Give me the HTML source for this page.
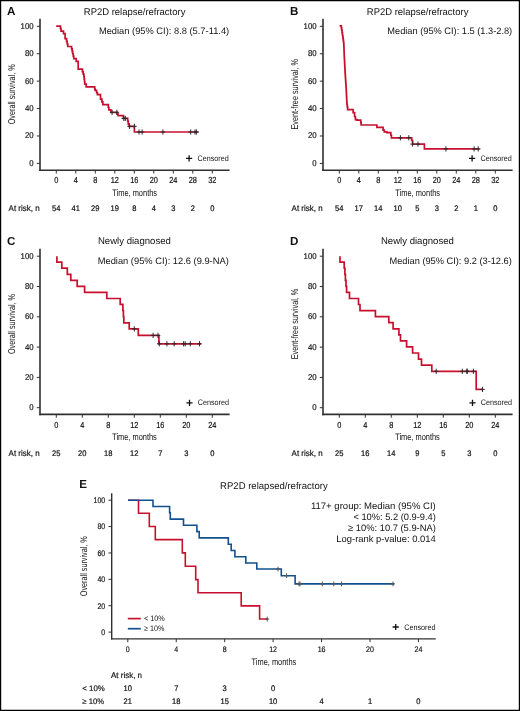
<!DOCTYPE html>
<html><head><meta charset="utf-8"><title>Figure</title>
<style>html,body{margin:0;padding:0;background:#fff;}svg{display:block;will-change:transform;}</style>
</head><body>
<svg width="520" height="711" viewBox="0 0 520 711">
<rect x="0" y="0" width="520" height="711" fill="#fff"/>
<g font-family='"Liberation Sans", sans-serif' text-rendering="geometricPrecision">
<text x="6.90" y="14.90" font-size="11.6" text-anchor="start" font-weight="bold" fill="#111">A</text>
<text x="83.80" y="14.50" font-size="9.7" text-anchor="start" textLength="101.60" lengthAdjust="spacingAndGlyphs" fill="#111111">RP2D relapse/refractory</text>
<text x="229.20" y="34.30" font-size="9.4" text-anchor="end" textLength="130.30" lengthAdjust="spacingAndGlyphs" fill="#111111">Median (95% CI): 8.8 (5.7-11.4)</text>
<line x1="40.00" y1="18.80" x2="40.00" y2="171.00" stroke="#303030" stroke-width="1.6"/>
<line x1="39.20" y1="170.20" x2="229.60" y2="170.20" stroke="#303030" stroke-width="1.6"/>
<line x1="36.80" y1="163.40" x2="40.00" y2="163.40" stroke="#303030" stroke-width="1"/>
<text x="33.60" y="165.80" font-size="8.4" text-anchor="end" textLength="4.34" lengthAdjust="spacingAndGlyphs" fill="#111111" stroke="#111" stroke-width="0.18">0</text>
<line x1="36.80" y1="135.98" x2="40.00" y2="135.98" stroke="#303030" stroke-width="1"/>
<text x="33.60" y="138.38" font-size="8.4" text-anchor="end" textLength="8.69" lengthAdjust="spacingAndGlyphs" fill="#111111" stroke="#111" stroke-width="0.18">20</text>
<line x1="36.80" y1="108.56" x2="40.00" y2="108.56" stroke="#303030" stroke-width="1"/>
<text x="33.60" y="110.96" font-size="8.4" text-anchor="end" textLength="8.69" lengthAdjust="spacingAndGlyphs" fill="#111111" stroke="#111" stroke-width="0.18">40</text>
<line x1="36.80" y1="81.14" x2="40.00" y2="81.14" stroke="#303030" stroke-width="1"/>
<text x="33.60" y="83.54" font-size="8.4" text-anchor="end" textLength="8.69" lengthAdjust="spacingAndGlyphs" fill="#111111" stroke="#111" stroke-width="0.18">60</text>
<line x1="36.80" y1="53.72" x2="40.00" y2="53.72" stroke="#303030" stroke-width="1"/>
<text x="33.60" y="56.12" font-size="8.4" text-anchor="end" textLength="8.69" lengthAdjust="spacingAndGlyphs" fill="#111111" stroke="#111" stroke-width="0.18">80</text>
<line x1="36.80" y1="26.30" x2="40.00" y2="26.30" stroke="#303030" stroke-width="1"/>
<text x="33.60" y="28.70" font-size="8.4" text-anchor="end" textLength="13.03" lengthAdjust="spacingAndGlyphs" fill="#111111" stroke="#111" stroke-width="0.18">100</text>
<line x1="56.30" y1="170.20" x2="56.30" y2="173.50" stroke="#303030" stroke-width="1"/>
<text x="56.30" y="182.80" font-size="8.7" text-anchor="middle" textLength="4.11" lengthAdjust="spacingAndGlyphs" fill="#111111" stroke="#111" stroke-width="0.18">0</text>
<line x1="75.80" y1="170.20" x2="75.80" y2="173.50" stroke="#303030" stroke-width="1"/>
<text x="75.80" y="182.80" font-size="8.7" text-anchor="middle" textLength="4.11" lengthAdjust="spacingAndGlyphs" fill="#111111" stroke="#111" stroke-width="0.18">4</text>
<line x1="95.30" y1="170.20" x2="95.30" y2="173.50" stroke="#303030" stroke-width="1"/>
<text x="95.30" y="182.80" font-size="8.7" text-anchor="middle" textLength="4.11" lengthAdjust="spacingAndGlyphs" fill="#111111" stroke="#111" stroke-width="0.18">8</text>
<line x1="114.80" y1="170.20" x2="114.80" y2="173.50" stroke="#303030" stroke-width="1"/>
<text x="114.80" y="182.80" font-size="8.7" text-anchor="middle" textLength="8.22" lengthAdjust="spacingAndGlyphs" fill="#111111" stroke="#111" stroke-width="0.18">12</text>
<line x1="134.30" y1="170.20" x2="134.30" y2="173.50" stroke="#303030" stroke-width="1"/>
<text x="134.30" y="182.80" font-size="8.7" text-anchor="middle" textLength="8.22" lengthAdjust="spacingAndGlyphs" fill="#111111" stroke="#111" stroke-width="0.18">16</text>
<line x1="153.80" y1="170.20" x2="153.80" y2="173.50" stroke="#303030" stroke-width="1"/>
<text x="153.80" y="182.80" font-size="8.7" text-anchor="middle" textLength="8.22" lengthAdjust="spacingAndGlyphs" fill="#111111" stroke="#111" stroke-width="0.18">20</text>
<line x1="173.30" y1="170.20" x2="173.30" y2="173.50" stroke="#303030" stroke-width="1"/>
<text x="173.30" y="182.80" font-size="8.7" text-anchor="middle" textLength="8.22" lengthAdjust="spacingAndGlyphs" fill="#111111" stroke="#111" stroke-width="0.18">24</text>
<line x1="192.80" y1="170.20" x2="192.80" y2="173.50" stroke="#303030" stroke-width="1"/>
<text x="192.80" y="182.80" font-size="8.7" text-anchor="middle" textLength="8.22" lengthAdjust="spacingAndGlyphs" fill="#111111" stroke="#111" stroke-width="0.18">28</text>
<line x1="212.30" y1="170.20" x2="212.30" y2="173.50" stroke="#303030" stroke-width="1"/>
<text x="212.30" y="182.80" font-size="8.7" text-anchor="middle" textLength="8.22" lengthAdjust="spacingAndGlyphs" fill="#111111" stroke="#111" stroke-width="0.18">32</text>
<text x="0.00" y="0.00" font-size="9.8" text-anchor="middle" textLength="60.10" lengthAdjust="spacingAndGlyphs" fill="#111111" transform="translate(15.3 94.3) rotate(-90)">Overall survival, %</text>
<text x="134.70" y="195.60" font-size="9.5" text-anchor="middle" textLength="44.70" lengthAdjust="spacingAndGlyphs" fill="#111111">Time, months</text>
<text x="8.60" y="211.00" font-size="8.4" text-anchor="start" textLength="31.00" lengthAdjust="spacingAndGlyphs" fill="#111111" stroke="#111" stroke-width="0.18">At risk, n</text>
<text x="56.30" y="211.00" font-size="8.1" text-anchor="middle" textLength="8.38" lengthAdjust="spacingAndGlyphs" fill="#111111" stroke="#111" stroke-width="0.22">54</text>
<text x="75.80" y="211.00" font-size="8.1" text-anchor="middle" textLength="8.38" lengthAdjust="spacingAndGlyphs" fill="#111111" stroke="#111" stroke-width="0.22">41</text>
<text x="95.30" y="211.00" font-size="8.1" text-anchor="middle" textLength="8.38" lengthAdjust="spacingAndGlyphs" fill="#111111" stroke="#111" stroke-width="0.22">29</text>
<text x="114.80" y="211.00" font-size="8.1" text-anchor="middle" textLength="8.38" lengthAdjust="spacingAndGlyphs" fill="#111111" stroke="#111" stroke-width="0.22">19</text>
<text x="134.30" y="211.00" font-size="8.1" text-anchor="middle" textLength="4.19" lengthAdjust="spacingAndGlyphs" fill="#111111" stroke="#111" stroke-width="0.22">8</text>
<text x="153.80" y="211.00" font-size="8.1" text-anchor="middle" textLength="4.19" lengthAdjust="spacingAndGlyphs" fill="#111111" stroke="#111" stroke-width="0.22">4</text>
<text x="173.30" y="211.00" font-size="8.1" text-anchor="middle" textLength="4.19" lengthAdjust="spacingAndGlyphs" fill="#111111" stroke="#111" stroke-width="0.22">3</text>
<text x="192.80" y="211.00" font-size="8.1" text-anchor="middle" textLength="4.19" lengthAdjust="spacingAndGlyphs" fill="#111111" stroke="#111" stroke-width="0.22">2</text>
<text x="212.30" y="211.00" font-size="8.1" text-anchor="middle" textLength="4.19" lengthAdjust="spacingAndGlyphs" fill="#111111" stroke="#111" stroke-width="0.22">0</text>
<path d="M186.00 158.40H192.20M189.10 155.30V161.50" stroke="#111" stroke-width="1.3" fill="none"/>
<text x="197.50" y="160.90" font-size="8.0" text-anchor="start" textLength="31.20" lengthAdjust="spacingAndGlyphs" fill="#111111">Censored</text>
<path d="M56.20 26.20H60.50V28.70H61.05V31.20H61.60H63.50V33.70H63.90H65.10V38.70H66.60V41.30H67.17V43.90H67.73V46.50H68.30H71.60V48.92H72.14V51.34H72.68V53.76H73.22V56.18H73.76V58.60H74.30H76.20V61.30H78.20V66.50V69.20H79.30H82.40V71.70H83.15V74.20H83.90V76.70H84.20V79.20H84.50V81.70H84.80V84.20H85.10H86.20V86.90H86.60H94.70V88.80H95.10V90.40H96.60V92.70H97.40V94.60H98.50H100.50V96.20V99.20H101.90V101.90H102.85V104.60H103.80H108.30V107.25H108.85V109.90H109.40H110.90V112.30H111.30H117.10V114.20H118.10V115.70H120.00H123.40V118.40H123.80H127.70V121.00H128.20V123.80H129.10V126.30H129.60H134.40V132.00H198.50" stroke="#c8102e" stroke-width="1.7" fill="none" stroke-linejoin="miter"/>
<path d="M109.80 112.30H114.40M112.10 109.70V114.90" stroke="#2a2a2a" stroke-width="1.0" fill="none"/>
<path d="M114.60 112.30H119.20M116.90 109.70V114.90" stroke="#2a2a2a" stroke-width="1.0" fill="none"/>
<path d="M121.50 118.40H126.10M123.80 115.80V121.00" stroke="#2a2a2a" stroke-width="1.0" fill="none"/>
<path d="M123.00 118.40H127.60M125.30 115.80V121.00" stroke="#2a2a2a" stroke-width="1.0" fill="none"/>
<path d="M127.30 126.30H131.90M129.60 123.70V128.90" stroke="#2a2a2a" stroke-width="1.0" fill="none"/>
<path d="M132.10 126.30H136.70M134.40 123.70V128.90" stroke="#2a2a2a" stroke-width="1.0" fill="none"/>
<path d="M136.70 132.00H141.30M139.00 129.40V134.60" stroke="#2a2a2a" stroke-width="1.0" fill="none"/>
<path d="M139.80 132.00H144.40M142.10 129.40V134.60" stroke="#2a2a2a" stroke-width="1.0" fill="none"/>
<path d="M160.60 132.00H165.20M162.90 129.40V134.60" stroke="#2a2a2a" stroke-width="1.0" fill="none"/>
<path d="M188.40 132.00H193.00M190.70 129.40V134.60" stroke="#2a2a2a" stroke-width="1.0" fill="none"/>
<path d="M192.70 132.00H197.30M195.00 129.40V134.60" stroke="#2a2a2a" stroke-width="1.0" fill="none"/>
<path d="M194.10 132.00H198.70M196.40 129.40V134.60" stroke="#2a2a2a" stroke-width="1.0" fill="none"/>
<text x="289.90" y="14.90" font-size="11.6" text-anchor="start" font-weight="bold" fill="#111">B</text>
<text x="366.80" y="14.50" font-size="9.7" text-anchor="start" textLength="101.60" lengthAdjust="spacingAndGlyphs" fill="#111111">RP2D relapse/refractory</text>
<text x="512.20" y="34.30" font-size="9.4" text-anchor="end" textLength="124.90" lengthAdjust="spacingAndGlyphs" fill="#111111">Median (95% CI): 1.5 (1.3-2.8)</text>
<line x1="323.00" y1="18.80" x2="323.00" y2="171.00" stroke="#303030" stroke-width="1.6"/>
<line x1="322.20" y1="170.20" x2="512.60" y2="170.20" stroke="#303030" stroke-width="1.6"/>
<line x1="319.80" y1="163.40" x2="323.00" y2="163.40" stroke="#303030" stroke-width="1"/>
<text x="316.60" y="165.80" font-size="8.4" text-anchor="end" textLength="4.34" lengthAdjust="spacingAndGlyphs" fill="#111111" stroke="#111" stroke-width="0.18">0</text>
<line x1="319.80" y1="135.98" x2="323.00" y2="135.98" stroke="#303030" stroke-width="1"/>
<text x="316.60" y="138.38" font-size="8.4" text-anchor="end" textLength="8.69" lengthAdjust="spacingAndGlyphs" fill="#111111" stroke="#111" stroke-width="0.18">20</text>
<line x1="319.80" y1="108.56" x2="323.00" y2="108.56" stroke="#303030" stroke-width="1"/>
<text x="316.60" y="110.96" font-size="8.4" text-anchor="end" textLength="8.69" lengthAdjust="spacingAndGlyphs" fill="#111111" stroke="#111" stroke-width="0.18">40</text>
<line x1="319.80" y1="81.14" x2="323.00" y2="81.14" stroke="#303030" stroke-width="1"/>
<text x="316.60" y="83.54" font-size="8.4" text-anchor="end" textLength="8.69" lengthAdjust="spacingAndGlyphs" fill="#111111" stroke="#111" stroke-width="0.18">60</text>
<line x1="319.80" y1="53.72" x2="323.00" y2="53.72" stroke="#303030" stroke-width="1"/>
<text x="316.60" y="56.12" font-size="8.4" text-anchor="end" textLength="8.69" lengthAdjust="spacingAndGlyphs" fill="#111111" stroke="#111" stroke-width="0.18">80</text>
<line x1="319.80" y1="26.30" x2="323.00" y2="26.30" stroke="#303030" stroke-width="1"/>
<text x="316.60" y="28.70" font-size="8.4" text-anchor="end" textLength="13.03" lengthAdjust="spacingAndGlyphs" fill="#111111" stroke="#111" stroke-width="0.18">100</text>
<line x1="339.30" y1="170.20" x2="339.30" y2="173.50" stroke="#303030" stroke-width="1"/>
<text x="339.30" y="182.80" font-size="8.7" text-anchor="middle" textLength="4.11" lengthAdjust="spacingAndGlyphs" fill="#111111" stroke="#111" stroke-width="0.18">0</text>
<line x1="358.80" y1="170.20" x2="358.80" y2="173.50" stroke="#303030" stroke-width="1"/>
<text x="358.80" y="182.80" font-size="8.7" text-anchor="middle" textLength="4.11" lengthAdjust="spacingAndGlyphs" fill="#111111" stroke="#111" stroke-width="0.18">4</text>
<line x1="378.30" y1="170.20" x2="378.30" y2="173.50" stroke="#303030" stroke-width="1"/>
<text x="378.30" y="182.80" font-size="8.7" text-anchor="middle" textLength="4.11" lengthAdjust="spacingAndGlyphs" fill="#111111" stroke="#111" stroke-width="0.18">8</text>
<line x1="397.80" y1="170.20" x2="397.80" y2="173.50" stroke="#303030" stroke-width="1"/>
<text x="397.80" y="182.80" font-size="8.7" text-anchor="middle" textLength="8.22" lengthAdjust="spacingAndGlyphs" fill="#111111" stroke="#111" stroke-width="0.18">12</text>
<line x1="417.30" y1="170.20" x2="417.30" y2="173.50" stroke="#303030" stroke-width="1"/>
<text x="417.30" y="182.80" font-size="8.7" text-anchor="middle" textLength="8.22" lengthAdjust="spacingAndGlyphs" fill="#111111" stroke="#111" stroke-width="0.18">16</text>
<line x1="436.80" y1="170.20" x2="436.80" y2="173.50" stroke="#303030" stroke-width="1"/>
<text x="436.80" y="182.80" font-size="8.7" text-anchor="middle" textLength="8.22" lengthAdjust="spacingAndGlyphs" fill="#111111" stroke="#111" stroke-width="0.18">20</text>
<line x1="456.30" y1="170.20" x2="456.30" y2="173.50" stroke="#303030" stroke-width="1"/>
<text x="456.30" y="182.80" font-size="8.7" text-anchor="middle" textLength="8.22" lengthAdjust="spacingAndGlyphs" fill="#111111" stroke="#111" stroke-width="0.18">24</text>
<line x1="475.80" y1="170.20" x2="475.80" y2="173.50" stroke="#303030" stroke-width="1"/>
<text x="475.80" y="182.80" font-size="8.7" text-anchor="middle" textLength="8.22" lengthAdjust="spacingAndGlyphs" fill="#111111" stroke="#111" stroke-width="0.18">28</text>
<line x1="495.30" y1="170.20" x2="495.30" y2="173.50" stroke="#303030" stroke-width="1"/>
<text x="495.30" y="182.80" font-size="8.7" text-anchor="middle" textLength="8.22" lengthAdjust="spacingAndGlyphs" fill="#111111" stroke="#111" stroke-width="0.18">32</text>
<text x="0.00" y="0.00" font-size="9.8" text-anchor="middle" textLength="70.40" lengthAdjust="spacingAndGlyphs" fill="#111111" transform="translate(298.3 94.3) rotate(-90)">Event-free survival, %</text>
<text x="417.70" y="195.60" font-size="9.5" text-anchor="middle" textLength="44.70" lengthAdjust="spacingAndGlyphs" fill="#111111">Time, months</text>
<text x="291.60" y="211.00" font-size="8.4" text-anchor="start" textLength="31.00" lengthAdjust="spacingAndGlyphs" fill="#111111" stroke="#111" stroke-width="0.18">At risk, n</text>
<text x="339.30" y="211.00" font-size="8.1" text-anchor="middle" textLength="8.38" lengthAdjust="spacingAndGlyphs" fill="#111111" stroke="#111" stroke-width="0.22">54</text>
<text x="358.80" y="211.00" font-size="8.1" text-anchor="middle" textLength="8.38" lengthAdjust="spacingAndGlyphs" fill="#111111" stroke="#111" stroke-width="0.22">17</text>
<text x="378.30" y="211.00" font-size="8.1" text-anchor="middle" textLength="8.38" lengthAdjust="spacingAndGlyphs" fill="#111111" stroke="#111" stroke-width="0.22">14</text>
<text x="397.80" y="211.00" font-size="8.1" text-anchor="middle" textLength="8.38" lengthAdjust="spacingAndGlyphs" fill="#111111" stroke="#111" stroke-width="0.22">10</text>
<text x="417.30" y="211.00" font-size="8.1" text-anchor="middle" textLength="4.19" lengthAdjust="spacingAndGlyphs" fill="#111111" stroke="#111" stroke-width="0.22">5</text>
<text x="436.80" y="211.00" font-size="8.1" text-anchor="middle" textLength="4.19" lengthAdjust="spacingAndGlyphs" fill="#111111" stroke="#111" stroke-width="0.22">3</text>
<text x="456.30" y="211.00" font-size="8.1" text-anchor="middle" textLength="4.19" lengthAdjust="spacingAndGlyphs" fill="#111111" stroke="#111" stroke-width="0.22">2</text>
<text x="475.80" y="211.00" font-size="8.1" text-anchor="middle" textLength="4.19" lengthAdjust="spacingAndGlyphs" fill="#111111" stroke="#111" stroke-width="0.22">1</text>
<text x="495.30" y="211.00" font-size="8.1" text-anchor="middle" textLength="4.19" lengthAdjust="spacingAndGlyphs" fill="#111111" stroke="#111" stroke-width="0.22">0</text>
<path d="M469.00 158.40H475.20M472.10 155.30V161.50" stroke="#111" stroke-width="1.3" fill="none"/>
<text x="480.50" y="160.90" font-size="8.0" text-anchor="start" textLength="31.20" lengthAdjust="spacingAndGlyphs" fill="#111111">Censored</text>
<path d="M339.60 25.90H341.30V27.85H341.65V29.80H342.00V32.65H342.45V35.50H342.90V37.83H343.20V40.17H343.50V42.50H343.80V45.04H343.90V47.58H344.00V50.12H344.10V52.66H344.20V55.20H344.30V57.60H344.43V60.00H344.56V62.40H344.69V64.80H344.81V67.20H344.94V69.60H345.07V72.00H345.20V74.58H345.37V77.17H345.53V79.75H345.70V82.33H345.87V84.92H346.03V87.50H346.20V89.85H346.32V92.20H346.43V94.55H346.55V96.90H346.67V99.25H346.78V101.60H346.90V104.27H347.27V106.93H347.63V109.60H348.00H353.10V112.70H354.60V116.50H355.40V119.60H356.90V120.10H360.80V122.55H361.15V125.00H361.50H376.90V127.40H377.20H383.10V130.10H384.30V131.90H386.90V132.70H390.80V135.25H391.40V137.80H392.00H411.70V140.50H412.60V144.10H424.40V148.90H479.60" stroke="#c8102e" stroke-width="1.7" fill="none" stroke-linejoin="miter"/>
<path d="M398.10 137.80H402.70M400.40 135.20V140.40" stroke="#2a2a2a" stroke-width="1.0" fill="none"/>
<path d="M406.50 137.80H411.10M408.80 135.20V140.40" stroke="#2a2a2a" stroke-width="1.0" fill="none"/>
<path d="M410.30 144.10H414.90M412.60 141.50V146.70" stroke="#2a2a2a" stroke-width="1.0" fill="none"/>
<path d="M415.70 144.10H420.30M418.00 141.50V146.70" stroke="#2a2a2a" stroke-width="1.0" fill="none"/>
<path d="M443.60 148.90H448.20M445.90 146.30V151.50" stroke="#2a2a2a" stroke-width="1.0" fill="none"/>
<path d="M471.80 148.90H476.40M474.10 146.30V151.50" stroke="#2a2a2a" stroke-width="1.0" fill="none"/>
<path d="M475.90 148.90H480.50M478.20 146.30V151.50" stroke="#2a2a2a" stroke-width="1.0" fill="none"/>
<text x="6.90" y="244.80" font-size="11.6" text-anchor="start" font-weight="bold" fill="#111">C</text>
<text x="134.40" y="244.30" font-size="9.7" text-anchor="middle" textLength="72.90" lengthAdjust="spacingAndGlyphs" fill="#111111">Newly diagnosed</text>
<text x="228.80" y="263.90" font-size="9.4" text-anchor="end" textLength="131.10" lengthAdjust="spacingAndGlyphs" fill="#111111">Median (95% CI): 12.6 (9.9-NA)</text>
<line x1="40.00" y1="248.70" x2="40.00" y2="415.20" stroke="#303030" stroke-width="1.6"/>
<line x1="39.20" y1="414.40" x2="229.60" y2="414.40" stroke="#303030" stroke-width="1.6"/>
<line x1="36.80" y1="407.70" x2="40.00" y2="407.70" stroke="#303030" stroke-width="1"/>
<text x="33.60" y="410.10" font-size="8.4" text-anchor="end" textLength="4.34" lengthAdjust="spacingAndGlyphs" fill="#111111" stroke="#111" stroke-width="0.18">0</text>
<line x1="36.80" y1="377.40" x2="40.00" y2="377.40" stroke="#303030" stroke-width="1"/>
<text x="33.60" y="379.80" font-size="8.4" text-anchor="end" textLength="8.69" lengthAdjust="spacingAndGlyphs" fill="#111111" stroke="#111" stroke-width="0.18">20</text>
<line x1="36.80" y1="347.10" x2="40.00" y2="347.10" stroke="#303030" stroke-width="1"/>
<text x="33.60" y="349.50" font-size="8.4" text-anchor="end" textLength="8.69" lengthAdjust="spacingAndGlyphs" fill="#111111" stroke="#111" stroke-width="0.18">40</text>
<line x1="36.80" y1="316.80" x2="40.00" y2="316.80" stroke="#303030" stroke-width="1"/>
<text x="33.60" y="319.20" font-size="8.4" text-anchor="end" textLength="8.69" lengthAdjust="spacingAndGlyphs" fill="#111111" stroke="#111" stroke-width="0.18">60</text>
<line x1="36.80" y1="286.50" x2="40.00" y2="286.50" stroke="#303030" stroke-width="1"/>
<text x="33.60" y="288.90" font-size="8.4" text-anchor="end" textLength="8.69" lengthAdjust="spacingAndGlyphs" fill="#111111" stroke="#111" stroke-width="0.18">80</text>
<line x1="36.80" y1="256.20" x2="40.00" y2="256.20" stroke="#303030" stroke-width="1"/>
<text x="33.60" y="258.60" font-size="8.4" text-anchor="end" textLength="13.03" lengthAdjust="spacingAndGlyphs" fill="#111111" stroke="#111" stroke-width="0.18">100</text>
<line x1="56.30" y1="414.40" x2="56.30" y2="417.70" stroke="#303030" stroke-width="1"/>
<text x="56.30" y="427.50" font-size="8.7" text-anchor="middle" textLength="4.11" lengthAdjust="spacingAndGlyphs" fill="#111111" stroke="#111" stroke-width="0.18">0</text>
<line x1="82.30" y1="414.40" x2="82.30" y2="417.70" stroke="#303030" stroke-width="1"/>
<text x="82.30" y="427.50" font-size="8.7" text-anchor="middle" textLength="4.11" lengthAdjust="spacingAndGlyphs" fill="#111111" stroke="#111" stroke-width="0.18">4</text>
<line x1="108.30" y1="414.40" x2="108.30" y2="417.70" stroke="#303030" stroke-width="1"/>
<text x="108.30" y="427.50" font-size="8.7" text-anchor="middle" textLength="4.11" lengthAdjust="spacingAndGlyphs" fill="#111111" stroke="#111" stroke-width="0.18">8</text>
<line x1="134.30" y1="414.40" x2="134.30" y2="417.70" stroke="#303030" stroke-width="1"/>
<text x="134.30" y="427.50" font-size="8.7" text-anchor="middle" textLength="8.22" lengthAdjust="spacingAndGlyphs" fill="#111111" stroke="#111" stroke-width="0.18">12</text>
<line x1="160.30" y1="414.40" x2="160.30" y2="417.70" stroke="#303030" stroke-width="1"/>
<text x="160.30" y="427.50" font-size="8.7" text-anchor="middle" textLength="8.22" lengthAdjust="spacingAndGlyphs" fill="#111111" stroke="#111" stroke-width="0.18">16</text>
<line x1="186.30" y1="414.40" x2="186.30" y2="417.70" stroke="#303030" stroke-width="1"/>
<text x="186.30" y="427.50" font-size="8.7" text-anchor="middle" textLength="8.22" lengthAdjust="spacingAndGlyphs" fill="#111111" stroke="#111" stroke-width="0.18">20</text>
<line x1="212.30" y1="414.40" x2="212.30" y2="417.70" stroke="#303030" stroke-width="1"/>
<text x="212.30" y="427.50" font-size="8.7" text-anchor="middle" textLength="8.22" lengthAdjust="spacingAndGlyphs" fill="#111111" stroke="#111" stroke-width="0.18">24</text>
<text x="0.00" y="0.00" font-size="9.8" text-anchor="middle" textLength="60.10" lengthAdjust="spacingAndGlyphs" fill="#111111" transform="translate(15.3 324.0) rotate(-90)">Overall survival, %</text>
<text x="134.50" y="440.00" font-size="9.5" text-anchor="middle" textLength="44.70" lengthAdjust="spacingAndGlyphs" fill="#111111">Time, months</text>
<text x="8.60" y="455.50" font-size="8.4" text-anchor="start" textLength="31.00" lengthAdjust="spacingAndGlyphs" fill="#111111" stroke="#111" stroke-width="0.18">At risk, n</text>
<text x="56.30" y="455.50" font-size="8.1" text-anchor="middle" textLength="8.38" lengthAdjust="spacingAndGlyphs" fill="#111111" stroke="#111" stroke-width="0.22">25</text>
<text x="82.30" y="455.50" font-size="8.1" text-anchor="middle" textLength="8.38" lengthAdjust="spacingAndGlyphs" fill="#111111" stroke="#111" stroke-width="0.22">20</text>
<text x="108.30" y="455.50" font-size="8.1" text-anchor="middle" textLength="8.38" lengthAdjust="spacingAndGlyphs" fill="#111111" stroke="#111" stroke-width="0.22">18</text>
<text x="134.30" y="455.50" font-size="8.1" text-anchor="middle" textLength="8.38" lengthAdjust="spacingAndGlyphs" fill="#111111" stroke="#111" stroke-width="0.22">12</text>
<text x="160.30" y="455.50" font-size="8.1" text-anchor="middle" textLength="4.19" lengthAdjust="spacingAndGlyphs" fill="#111111" stroke="#111" stroke-width="0.22">7</text>
<text x="186.30" y="455.50" font-size="8.1" text-anchor="middle" textLength="4.19" lengthAdjust="spacingAndGlyphs" fill="#111111" stroke="#111" stroke-width="0.22">3</text>
<text x="212.30" y="455.50" font-size="8.1" text-anchor="middle" textLength="4.19" lengthAdjust="spacingAndGlyphs" fill="#111111" stroke="#111" stroke-width="0.22">0</text>
<path d="M186.40 402.80H192.60M189.50 399.70V405.90" stroke="#111" stroke-width="1.3" fill="none"/>
<text x="197.80" y="405.40" font-size="8.0" text-anchor="start" textLength="31.20" lengthAdjust="spacingAndGlyphs" fill="#111111">Censored</text>
<path d="M56.90 256.20V262.20H61.80V268.20H67.30V274.30H70.80V280.40H77.20V286.40H84.60V292.40H106.80V298.50H120.20V304.30H122.90V310.50H123.40V316.60H123.80V322.80H129.20V328.90H138.30V335.40H158.90V343.80H201.10" stroke="#c8102e" stroke-width="1.7" fill="none" stroke-linejoin="miter"/>
<path d="M132.00 328.90H136.60M134.30 326.30V331.50" stroke="#2a2a2a" stroke-width="1.0" fill="none"/>
<path d="M150.80 335.40H155.40M153.10 332.80V338.00" stroke="#2a2a2a" stroke-width="1.0" fill="none"/>
<path d="M155.70 335.40H160.30M158.00 332.80V338.00" stroke="#2a2a2a" stroke-width="1.0" fill="none"/>
<path d="M157.00 343.80H161.60M159.30 341.20V346.40" stroke="#2a2a2a" stroke-width="1.0" fill="none"/>
<path d="M164.60 343.80H169.20M166.90 341.20V346.40" stroke="#2a2a2a" stroke-width="1.0" fill="none"/>
<path d="M171.90 343.80H176.50M174.20 341.20V346.40" stroke="#2a2a2a" stroke-width="1.0" fill="none"/>
<path d="M181.30 343.80H185.90M183.60 341.20V346.40" stroke="#2a2a2a" stroke-width="1.0" fill="none"/>
<path d="M182.90 343.80H187.50M185.20 341.20V346.40" stroke="#2a2a2a" stroke-width="1.0" fill="none"/>
<path d="M188.00 343.80H192.60M190.30 341.20V346.40" stroke="#2a2a2a" stroke-width="1.0" fill="none"/>
<path d="M197.20 343.80H201.80M199.50 341.20V346.40" stroke="#2a2a2a" stroke-width="1.0" fill="none"/>
<text x="289.90" y="244.80" font-size="11.6" text-anchor="start" font-weight="bold" fill="#111">D</text>
<text x="417.40" y="244.30" font-size="9.7" text-anchor="middle" textLength="72.90" lengthAdjust="spacingAndGlyphs" fill="#111111">Newly diagnosed</text>
<text x="511.80" y="263.90" font-size="9.4" text-anchor="end" textLength="122.30" lengthAdjust="spacingAndGlyphs" fill="#111111">Median (95% CI): 9.2 (3-12.6)</text>
<line x1="323.00" y1="248.70" x2="323.00" y2="415.20" stroke="#303030" stroke-width="1.6"/>
<line x1="322.20" y1="414.40" x2="512.60" y2="414.40" stroke="#303030" stroke-width="1.6"/>
<line x1="319.80" y1="407.70" x2="323.00" y2="407.70" stroke="#303030" stroke-width="1"/>
<text x="316.60" y="410.10" font-size="8.4" text-anchor="end" textLength="4.34" lengthAdjust="spacingAndGlyphs" fill="#111111" stroke="#111" stroke-width="0.18">0</text>
<line x1="319.80" y1="377.40" x2="323.00" y2="377.40" stroke="#303030" stroke-width="1"/>
<text x="316.60" y="379.80" font-size="8.4" text-anchor="end" textLength="8.69" lengthAdjust="spacingAndGlyphs" fill="#111111" stroke="#111" stroke-width="0.18">20</text>
<line x1="319.80" y1="347.10" x2="323.00" y2="347.10" stroke="#303030" stroke-width="1"/>
<text x="316.60" y="349.50" font-size="8.4" text-anchor="end" textLength="8.69" lengthAdjust="spacingAndGlyphs" fill="#111111" stroke="#111" stroke-width="0.18">40</text>
<line x1="319.80" y1="316.80" x2="323.00" y2="316.80" stroke="#303030" stroke-width="1"/>
<text x="316.60" y="319.20" font-size="8.4" text-anchor="end" textLength="8.69" lengthAdjust="spacingAndGlyphs" fill="#111111" stroke="#111" stroke-width="0.18">60</text>
<line x1="319.80" y1="286.50" x2="323.00" y2="286.50" stroke="#303030" stroke-width="1"/>
<text x="316.60" y="288.90" font-size="8.4" text-anchor="end" textLength="8.69" lengthAdjust="spacingAndGlyphs" fill="#111111" stroke="#111" stroke-width="0.18">80</text>
<line x1="319.80" y1="256.20" x2="323.00" y2="256.20" stroke="#303030" stroke-width="1"/>
<text x="316.60" y="258.60" font-size="8.4" text-anchor="end" textLength="13.03" lengthAdjust="spacingAndGlyphs" fill="#111111" stroke="#111" stroke-width="0.18">100</text>
<line x1="339.30" y1="414.40" x2="339.30" y2="417.70" stroke="#303030" stroke-width="1"/>
<text x="339.30" y="427.50" font-size="8.7" text-anchor="middle" textLength="4.11" lengthAdjust="spacingAndGlyphs" fill="#111111" stroke="#111" stroke-width="0.18">0</text>
<line x1="365.30" y1="414.40" x2="365.30" y2="417.70" stroke="#303030" stroke-width="1"/>
<text x="365.30" y="427.50" font-size="8.7" text-anchor="middle" textLength="4.11" lengthAdjust="spacingAndGlyphs" fill="#111111" stroke="#111" stroke-width="0.18">4</text>
<line x1="391.30" y1="414.40" x2="391.30" y2="417.70" stroke="#303030" stroke-width="1"/>
<text x="391.30" y="427.50" font-size="8.7" text-anchor="middle" textLength="4.11" lengthAdjust="spacingAndGlyphs" fill="#111111" stroke="#111" stroke-width="0.18">8</text>
<line x1="417.30" y1="414.40" x2="417.30" y2="417.70" stroke="#303030" stroke-width="1"/>
<text x="417.30" y="427.50" font-size="8.7" text-anchor="middle" textLength="8.22" lengthAdjust="spacingAndGlyphs" fill="#111111" stroke="#111" stroke-width="0.18">12</text>
<line x1="443.30" y1="414.40" x2="443.30" y2="417.70" stroke="#303030" stroke-width="1"/>
<text x="443.30" y="427.50" font-size="8.7" text-anchor="middle" textLength="8.22" lengthAdjust="spacingAndGlyphs" fill="#111111" stroke="#111" stroke-width="0.18">16</text>
<line x1="469.30" y1="414.40" x2="469.30" y2="417.70" stroke="#303030" stroke-width="1"/>
<text x="469.30" y="427.50" font-size="8.7" text-anchor="middle" textLength="8.22" lengthAdjust="spacingAndGlyphs" fill="#111111" stroke="#111" stroke-width="0.18">20</text>
<line x1="495.30" y1="414.40" x2="495.30" y2="417.70" stroke="#303030" stroke-width="1"/>
<text x="495.30" y="427.50" font-size="8.7" text-anchor="middle" textLength="8.22" lengthAdjust="spacingAndGlyphs" fill="#111111" stroke="#111" stroke-width="0.18">24</text>
<text x="0.00" y="0.00" font-size="9.8" text-anchor="middle" textLength="70.60" lengthAdjust="spacingAndGlyphs" fill="#111111" transform="translate(298.3 324.0) rotate(-90)">Event-free survival, %</text>
<text x="417.50" y="440.00" font-size="9.5" text-anchor="middle" textLength="44.70" lengthAdjust="spacingAndGlyphs" fill="#111111">Time, months</text>
<text x="291.60" y="455.50" font-size="8.4" text-anchor="start" textLength="31.00" lengthAdjust="spacingAndGlyphs" fill="#111111" stroke="#111" stroke-width="0.18">At risk, n</text>
<text x="339.30" y="455.50" font-size="8.1" text-anchor="middle" textLength="8.38" lengthAdjust="spacingAndGlyphs" fill="#111111" stroke="#111" stroke-width="0.22">25</text>
<text x="365.30" y="455.50" font-size="8.1" text-anchor="middle" textLength="8.38" lengthAdjust="spacingAndGlyphs" fill="#111111" stroke="#111" stroke-width="0.22">16</text>
<text x="391.30" y="455.50" font-size="8.1" text-anchor="middle" textLength="8.38" lengthAdjust="spacingAndGlyphs" fill="#111111" stroke="#111" stroke-width="0.22">14</text>
<text x="417.30" y="455.50" font-size="8.1" text-anchor="middle" textLength="4.19" lengthAdjust="spacingAndGlyphs" fill="#111111" stroke="#111" stroke-width="0.22">9</text>
<text x="443.30" y="455.50" font-size="8.1" text-anchor="middle" textLength="4.19" lengthAdjust="spacingAndGlyphs" fill="#111111" stroke="#111" stroke-width="0.22">5</text>
<text x="469.30" y="455.50" font-size="8.1" text-anchor="middle" textLength="4.19" lengthAdjust="spacingAndGlyphs" fill="#111111" stroke="#111" stroke-width="0.22">3</text>
<text x="495.30" y="455.50" font-size="8.1" text-anchor="middle" textLength="4.19" lengthAdjust="spacingAndGlyphs" fill="#111111" stroke="#111" stroke-width="0.22">0</text>
<path d="M469.40 402.80H475.60M472.50 399.70V405.90" stroke="#111" stroke-width="1.3" fill="none"/>
<text x="480.80" y="405.40" font-size="8.0" text-anchor="start" textLength="31.20" lengthAdjust="spacingAndGlyphs" fill="#111111">Censored</text>
<path d="M340.00 256.20V262.20H344.20V268.20H344.90V274.30H345.40V280.40H346.00V286.40H346.60V292.40H349.50V298.50H358.50V304.50H360.00V310.60H375.40V316.60H388.80V322.70H393.10V328.80H398.90V334.80H400.50V340.90H406.60V346.90H412.60V353.00H418.50V359.10H421.50V365.10H431.80V371.30H476.20V389.40H482.70" stroke="#c8102e" stroke-width="1.7" fill="none" stroke-linejoin="miter"/>
<path d="M433.90 371.30H438.50M436.20 368.70V373.90" stroke="#2a2a2a" stroke-width="1.0" fill="none"/>
<path d="M460.00 371.30H464.60M462.30 368.70V373.90" stroke="#2a2a2a" stroke-width="1.0" fill="none"/>
<path d="M464.50 371.30H469.10M466.80 368.70V373.90" stroke="#2a2a2a" stroke-width="1.0" fill="none"/>
<path d="M465.00 371.30H469.60M467.30 368.70V373.90" stroke="#2a2a2a" stroke-width="1.0" fill="none"/>
<path d="M471.10 371.30H475.70M473.40 368.70V373.90" stroke="#2a2a2a" stroke-width="1.0" fill="none"/>
<path d="M480.20 389.40H484.80M482.50 386.80V392.00" stroke="#2a2a2a" stroke-width="1.0" fill="none"/>
<text x="79.20" y="488.20" font-size="11.6" text-anchor="start" font-weight="bold" fill="#111">E</text>
<text x="220.10" y="488.80" font-size="9.7" text-anchor="start" textLength="107.60" lengthAdjust="spacingAndGlyphs" fill="#111111">RP2D relapsed/refractory</text>
<text x="435.80" y="508.90" font-size="9.4" text-anchor="end" textLength="124.90" lengthAdjust="spacingAndGlyphs" fill="#111111">117+ group: Median (95% CI)</text>
<text x="435.80" y="520.20" font-size="9.4" text-anchor="end" textLength="82.40" lengthAdjust="spacingAndGlyphs" fill="#111111">&lt; 10%: 5.2 (0.9-9.4)</text>
<text x="435.80" y="531.30" font-size="9.4" text-anchor="end" textLength="87.70" lengthAdjust="spacingAndGlyphs" fill="#111111">≥ 10%: 10.7 (5.9-NA)</text>
<text x="435.80" y="542.40" font-size="9.4" text-anchor="end" textLength="99.50" lengthAdjust="spacingAndGlyphs" fill="#111111">Log-rank p-value: 0.014</text>
<line x1="111.70" y1="493.20" x2="111.70" y2="639.60" stroke="#303030" stroke-width="1.4"/>
<line x1="111.00" y1="638.90" x2="435.70" y2="638.90" stroke="#303030" stroke-width="1.4"/>
<line x1="108.50" y1="632.10" x2="111.70" y2="632.10" stroke="#303030" stroke-width="1"/>
<text x="105.20" y="634.90" font-size="8.2" text-anchor="end" textLength="3.88" lengthAdjust="spacingAndGlyphs" fill="#111111" stroke="#111" stroke-width="0.18">0</text>
<line x1="108.50" y1="605.72" x2="111.70" y2="605.72" stroke="#303030" stroke-width="1"/>
<text x="105.20" y="608.52" font-size="8.2" text-anchor="end" textLength="7.75" lengthAdjust="spacingAndGlyphs" fill="#111111" stroke="#111" stroke-width="0.18">20</text>
<line x1="108.50" y1="579.34" x2="111.70" y2="579.34" stroke="#303030" stroke-width="1"/>
<text x="105.20" y="582.14" font-size="8.2" text-anchor="end" textLength="7.75" lengthAdjust="spacingAndGlyphs" fill="#111111" stroke="#111" stroke-width="0.18">40</text>
<line x1="108.50" y1="552.96" x2="111.70" y2="552.96" stroke="#303030" stroke-width="1"/>
<text x="105.20" y="555.76" font-size="8.2" text-anchor="end" textLength="7.75" lengthAdjust="spacingAndGlyphs" fill="#111111" stroke="#111" stroke-width="0.18">60</text>
<line x1="108.50" y1="526.58" x2="111.70" y2="526.58" stroke="#303030" stroke-width="1"/>
<text x="105.20" y="529.38" font-size="8.2" text-anchor="end" textLength="7.75" lengthAdjust="spacingAndGlyphs" fill="#111111" stroke="#111" stroke-width="0.18">80</text>
<line x1="108.50" y1="500.20" x2="111.70" y2="500.20" stroke="#303030" stroke-width="1"/>
<text x="105.20" y="503.00" font-size="8.2" text-anchor="end" textLength="11.63" lengthAdjust="spacingAndGlyphs" fill="#111111" stroke="#111" stroke-width="0.18">100</text>
<line x1="127.80" y1="638.90" x2="127.80" y2="642.20" stroke="#303030" stroke-width="1"/>
<text x="127.80" y="651.60" font-size="8.0" text-anchor="middle" textLength="3.91" lengthAdjust="spacingAndGlyphs" fill="#111111" stroke="#111" stroke-width="0.18">0</text>
<line x1="176.24" y1="638.90" x2="176.24" y2="642.20" stroke="#303030" stroke-width="1"/>
<text x="176.24" y="651.60" font-size="8.0" text-anchor="middle" textLength="3.91" lengthAdjust="spacingAndGlyphs" fill="#111111" stroke="#111" stroke-width="0.18">4</text>
<line x1="224.68" y1="638.90" x2="224.68" y2="642.20" stroke="#303030" stroke-width="1"/>
<text x="224.68" y="651.60" font-size="8.0" text-anchor="middle" textLength="3.91" lengthAdjust="spacingAndGlyphs" fill="#111111" stroke="#111" stroke-width="0.18">8</text>
<line x1="273.12" y1="638.90" x2="273.12" y2="642.20" stroke="#303030" stroke-width="1"/>
<text x="273.12" y="651.60" font-size="8.0" text-anchor="middle" textLength="7.83" lengthAdjust="spacingAndGlyphs" fill="#111111" stroke="#111" stroke-width="0.18">12</text>
<line x1="321.56" y1="638.90" x2="321.56" y2="642.20" stroke="#303030" stroke-width="1"/>
<text x="321.56" y="651.60" font-size="8.0" text-anchor="middle" textLength="7.83" lengthAdjust="spacingAndGlyphs" fill="#111111" stroke="#111" stroke-width="0.18">16</text>
<line x1="370.00" y1="638.90" x2="370.00" y2="642.20" stroke="#303030" stroke-width="1"/>
<text x="370.00" y="651.60" font-size="8.0" text-anchor="middle" textLength="7.83" lengthAdjust="spacingAndGlyphs" fill="#111111" stroke="#111" stroke-width="0.18">20</text>
<line x1="418.44" y1="638.90" x2="418.44" y2="642.20" stroke="#303030" stroke-width="1"/>
<text x="418.44" y="651.60" font-size="8.0" text-anchor="middle" textLength="7.83" lengthAdjust="spacingAndGlyphs" fill="#111111" stroke="#111" stroke-width="0.18">24</text>
<text x="0.00" y="0.00" font-size="9.6" text-anchor="middle" textLength="60.00" lengthAdjust="spacingAndGlyphs" fill="#111111" transform="translate(87.3 566.2) rotate(-90)">Overall survival, %</text>
<text x="273.90" y="664.60" font-size="9.5" text-anchor="middle" textLength="44.70" lengthAdjust="spacingAndGlyphs" fill="#111111">Time, months</text>
<text x="111.00" y="677.90" font-size="8.2" text-anchor="start" textLength="31.00" lengthAdjust="spacingAndGlyphs" fill="#111111" stroke="#111" stroke-width="0.18">At risk, n</text>
<text x="82.30" y="691.30" font-size="8.0" text-anchor="start" textLength="22.50" lengthAdjust="spacingAndGlyphs" fill="#111111" stroke="#111" stroke-width="0.18">&lt; 10%</text>
<text x="82.30" y="703.80" font-size="8.0" text-anchor="start" textLength="21.70" lengthAdjust="spacingAndGlyphs" fill="#111111" stroke="#111" stroke-width="0.18">≥ 10%</text>
<text x="127.80" y="691.30" font-size="8.1" text-anchor="middle" textLength="8.38" lengthAdjust="spacingAndGlyphs" fill="#111111" stroke="#111" stroke-width="0.22">10</text>
<text x="176.24" y="691.30" font-size="8.1" text-anchor="middle" textLength="4.19" lengthAdjust="spacingAndGlyphs" fill="#111111" stroke="#111" stroke-width="0.22">7</text>
<text x="224.68" y="691.30" font-size="8.1" text-anchor="middle" textLength="4.19" lengthAdjust="spacingAndGlyphs" fill="#111111" stroke="#111" stroke-width="0.22">3</text>
<text x="273.12" y="691.30" font-size="8.1" text-anchor="middle" textLength="4.19" lengthAdjust="spacingAndGlyphs" fill="#111111" stroke="#111" stroke-width="0.22">0</text>
<text x="127.80" y="703.80" font-size="8.1" text-anchor="middle" textLength="8.38" lengthAdjust="spacingAndGlyphs" fill="#111111" stroke="#111" stroke-width="0.22">21</text>
<text x="176.24" y="703.80" font-size="8.1" text-anchor="middle" textLength="8.38" lengthAdjust="spacingAndGlyphs" fill="#111111" stroke="#111" stroke-width="0.22">18</text>
<text x="224.68" y="703.80" font-size="8.1" text-anchor="middle" textLength="8.38" lengthAdjust="spacingAndGlyphs" fill="#111111" stroke="#111" stroke-width="0.22">15</text>
<text x="273.12" y="703.80" font-size="8.1" text-anchor="middle" textLength="8.38" lengthAdjust="spacingAndGlyphs" fill="#111111" stroke="#111" stroke-width="0.22">10</text>
<text x="321.56" y="703.80" font-size="8.1" text-anchor="middle" textLength="4.19" lengthAdjust="spacingAndGlyphs" fill="#111111" stroke="#111" stroke-width="0.22">4</text>
<text x="370.00" y="703.80" font-size="8.1" text-anchor="middle" textLength="4.19" lengthAdjust="spacingAndGlyphs" fill="#111111" stroke="#111" stroke-width="0.22">1</text>
<text x="418.44" y="703.80" font-size="8.1" text-anchor="middle" textLength="4.19" lengthAdjust="spacingAndGlyphs" fill="#111111" stroke="#111" stroke-width="0.22">0</text>
<line x1="127.80" y1="618.60" x2="140.80" y2="618.60" stroke="#c8102e" stroke-width="1.7"/>
<line x1="127.80" y1="628.70" x2="140.80" y2="628.70" stroke="#13508f" stroke-width="1.7"/>
<text x="144.00" y="621.20" font-size="8.0" text-anchor="start" textLength="20.80" lengthAdjust="spacingAndGlyphs" fill="#111111">&lt; 10%</text>
<text x="144.00" y="631.30" font-size="8.0" text-anchor="start" textLength="20.30" lengthAdjust="spacingAndGlyphs" fill="#111111">≥ 10%</text>
<path d="M392.60 627.00H398.80M395.70 623.90V630.10" stroke="#111" stroke-width="1.3" fill="none"/>
<text x="404.20" y="629.60" font-size="8.0" text-anchor="start" textLength="31.40" lengthAdjust="spacingAndGlyphs" fill="#111111">Censored</text>
<path d="M128.00 500.20H138.50V513.30H149.30V526.50H155.30V539.60H182.30V552.90H185.30V566.30H195.70V579.60H198.00V592.70H241.20V605.90H259.60V619.00H267.90" stroke="#c8102e" stroke-width="1.6" fill="none" stroke-linejoin="miter"/>
<path d="M128.00 500.20H153.00V506.50H169.60V512.80H170.30V519.10H183.50V525.30H196.90V531.60H199.20V537.90H228.30V544.20H231.20V550.50H234.90V556.70H245.80V563.00H256.80V569.00H281.30V575.70H295.10V583.90H394.20" stroke="#13508f" stroke-width="1.6" fill="none" stroke-linejoin="miter"/>
<path d="M276.00 569.00H280.00M278.00 566.60V571.40" stroke="#555" stroke-width="1.0" fill="none"/>
<path d="M284.60 575.70H288.60M286.60 573.30V578.10" stroke="#555" stroke-width="1.0" fill="none"/>
<path d="M297.00 583.90H301.00M299.00 581.50V586.30" stroke="#555" stroke-width="1.0" fill="none"/>
<path d="M298.00 583.90H302.00M300.00 581.50V586.30" stroke="#555" stroke-width="1.0" fill="none"/>
<path d="M320.30 583.90H324.30M322.30 581.50V586.30" stroke="#555" stroke-width="1.0" fill="none"/>
<path d="M331.80 583.90H335.80M333.80 581.50V586.30" stroke="#555" stroke-width="1.0" fill="none"/>
<path d="M339.50 583.90H343.50M341.50 581.50V586.30" stroke="#555" stroke-width="1.0" fill="none"/>
<path d="M391.00 583.90H395.00M393.00 581.50V586.30" stroke="#555" stroke-width="1.0" fill="none"/>
<path d="M265.20 619.00H269.20M267.20 616.60V621.40" stroke="#555" stroke-width="1.0" fill="none"/>
</g>
<path d="M0 0H520V711H0ZM1.2 1.2V709.8H518.8V1.2Z" fill="#000" fill-rule="evenodd"/>
</svg>
</body></html>
